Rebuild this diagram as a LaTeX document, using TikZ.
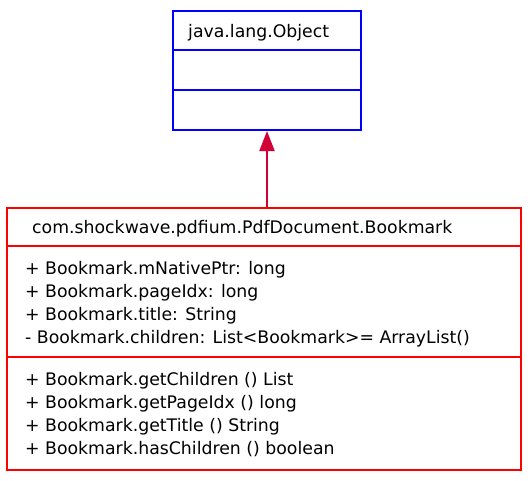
\documentclass[tikz,border=0pt]{standalone}
\usepackage{fontspec}
\setmainfont{DejaVu Sans}
\usetikzlibrary{calc, positioning}
\usetikzlibrary{arrows.meta}

\definecolor{umlblue}{RGB}{0,0,255}
\definecolor{umlred}{RGB}{255,0,0}
\definecolor{umlarrow}{RGB}{210,0,55}

\tikzset{
  classbox/.style={draw=#1, line width=2pt, rectangle, inner sep=0pt, anchor=north west},
  member/.style={anchor=base west, inner sep=0pt, font=\fontsize{17.3}{20}\selectfont},
  inherit/.style={umlarrow, line width=2pt, -{Triangle[width=15pt,length=20pt]}}
}

\begin{document}
\begin{tikzpicture}[x=1pt,y=-1pt]
\useasboundingbox (0,0) rectangle (532,480);
% superclass
\node[classbox=umlblue, minimum width=188pt, minimum height=119pt] (obj) at (172,10) {};
\draw[umlblue, line width=2pt] (obj.west |- 0,50) -- (obj.east |- 0,50)
  (obj.west |- 0,90) -- (obj.east |- 0,90);
\node[member] (objname) at (188,37) {java.lang.Object};
% subclass
\node[classbox=umlred, minimum width=514pt, minimum height=262pt] (bm) at (6,207) {};
\draw[umlred, line width=2pt] (bm.west |- 0,246) -- (bm.east |- 0,246)
  (bm.west |- 0,357) -- (bm.east |- 0,357);
\node[member] (bmname) at (32,233) {com.shockwave.pdfium.PdfDocument.Bookmark};
\foreach \y/\txt in {274/+ Bookmark.mNativePtr: long,
                     297/+ Bookmark.pageIdx: long,
                     320/+ Bookmark.title: String,
                     343/- Bookmark.children: List<Bookmark>= ArrayList()}{
  \node[member] at (25,\y) {\txt};
}
\foreach \y/\txt in {385/+ Bookmark.getChildren () List,
                     408/+ Bookmark.getPageIdx () long,
                     431/+ Bookmark.getTitle () String,
                     454/+ Bookmark.hasChildren () boolean}{
  \node[member] at (25,\y) {\txt};
}
% generalisation
\draw[inherit] (bm.north -| obj.south) -- (obj.south);
\end{tikzpicture}
\end{document}
